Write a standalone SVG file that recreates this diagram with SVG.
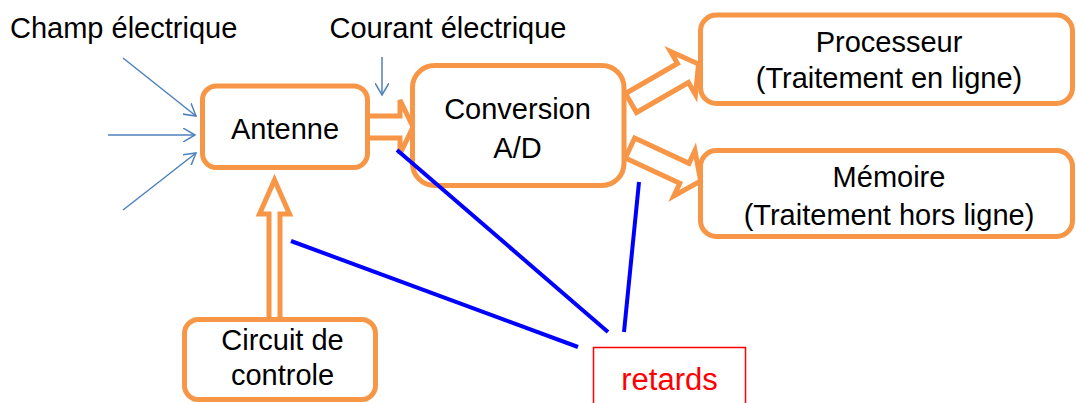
<svg xmlns="http://www.w3.org/2000/svg" width="1076" height="403" viewBox="0 0 1076 403">
<defs>
<style>
.box{fill:#fff;stroke:#F79646;stroke-width:5}
.blk{fill:#fff;stroke:#F79646;stroke-width:5;stroke-linejoin:miter}
.t{font-family:"Liberation Sans",Arial,sans-serif;font-size:29px;fill:#000;text-anchor:middle}
.thin{stroke:#4F81BD;stroke-width:1.5;fill:none}
.del{stroke:#0000FF;stroke-width:4;fill:none}
</style>
<marker id="ah" markerWidth="14" markerHeight="14" viewBox="0 0 14 14" refX="12" refY="7" orient="auto" markerUnits="userSpaceOnUse">
<path d="M0,0 L12,7 L0,14" fill="none" stroke="#4F81BD" stroke-width="1.5"/>
</marker>
</defs>
<rect width="1076" height="403" fill="#fff"/>
<g id="labels">
<text class="t" x="10" y="38" style="text-anchor:start">Champ électrique</text>
<text class="t" x="448" y="38">Courant électrique</text>
</g>
<g id="connectors">
<path class="blk" d="M370,116 H400 V100 L413,127 L400,154 V138 H370"/>
<path class="blk" d="M269,318 V214 H259.5 L274.5,180 L289.5,214 H280 V318"/>
<path class="blk" transform="translate(631,103) rotate(-30)" d="M0,-11 H60 V-25 L78,0 L60,25 V11 H0 Z"/>
<path class="blk" transform="translate(630,148) rotate(25)" d="M0,-11 H60 V-25 L78,0 L60,25 V11 H0 Z"/>
<line class="thin" x1="123" y1="58" x2="196" y2="116" marker-end="url(#ah)"/>
<line class="thin" x1="108" y1="135" x2="195" y2="135" marker-end="url(#ah)"/>
<line class="thin" x1="123" y1="210" x2="196" y2="153" marker-end="url(#ah)"/>
<line class="thin" x1="382" y1="57" x2="382" y2="95" marker-end="url(#ah)"/>
</g>
<g id="antenne">
<rect class="box" x="202.5" y="86" width="165" height="81.5" rx="14"/>
<text class="t" x="285" y="139">Antenne</text>
</g>
<g id="conversion">
<rect class="box" x="412.5" y="65.5" width="211.5" height="120" rx="22"/>
<text class="t" x="517.5" y="119">Conversion</text>
<text class="t" x="517.5" y="158">A/D</text>
</g>
<g id="processeur">
<rect class="box" x="700.5" y="15" width="372" height="88.5" rx="16"/>
<text class="t" x="889" y="52">Processeur</text>
<text class="t" x="889" y="88">(Traitement en ligne)</text>
</g>
<g id="memoire">
<rect class="box" x="700.5" y="150.5" width="372" height="86" rx="16"/>
<text class="t" x="889" y="187">Mémoire</text>
<text class="t" x="889" y="225">(Traitement hors ligne)</text>
</g>
<g id="circuit">
<rect class="box" x="184.5" y="319.5" width="191" height="80" rx="14"/>
<text class="t" x="282.5" y="350">Circuit de</text>
<text class="t" x="282.5" y="385">controle</text>
</g>
<g id="delays">
<line class="del" x1="397" y1="150" x2="608" y2="332"/>
<line class="del" x1="291" y1="241" x2="578" y2="347"/>
<line class="del" x1="639" y1="182" x2="624" y2="332"/>
</g>
<g id="retards">
<rect x="593.5" y="347.5" width="152" height="70" fill="#fff" stroke="#FF0000" stroke-width="1.5"/>
<text x="669.5" y="390" style="font-family:'Liberation Sans',Arial,sans-serif;font-size:31px;fill:#FF0000;text-anchor:middle">retards</text>
</g>
</svg>
